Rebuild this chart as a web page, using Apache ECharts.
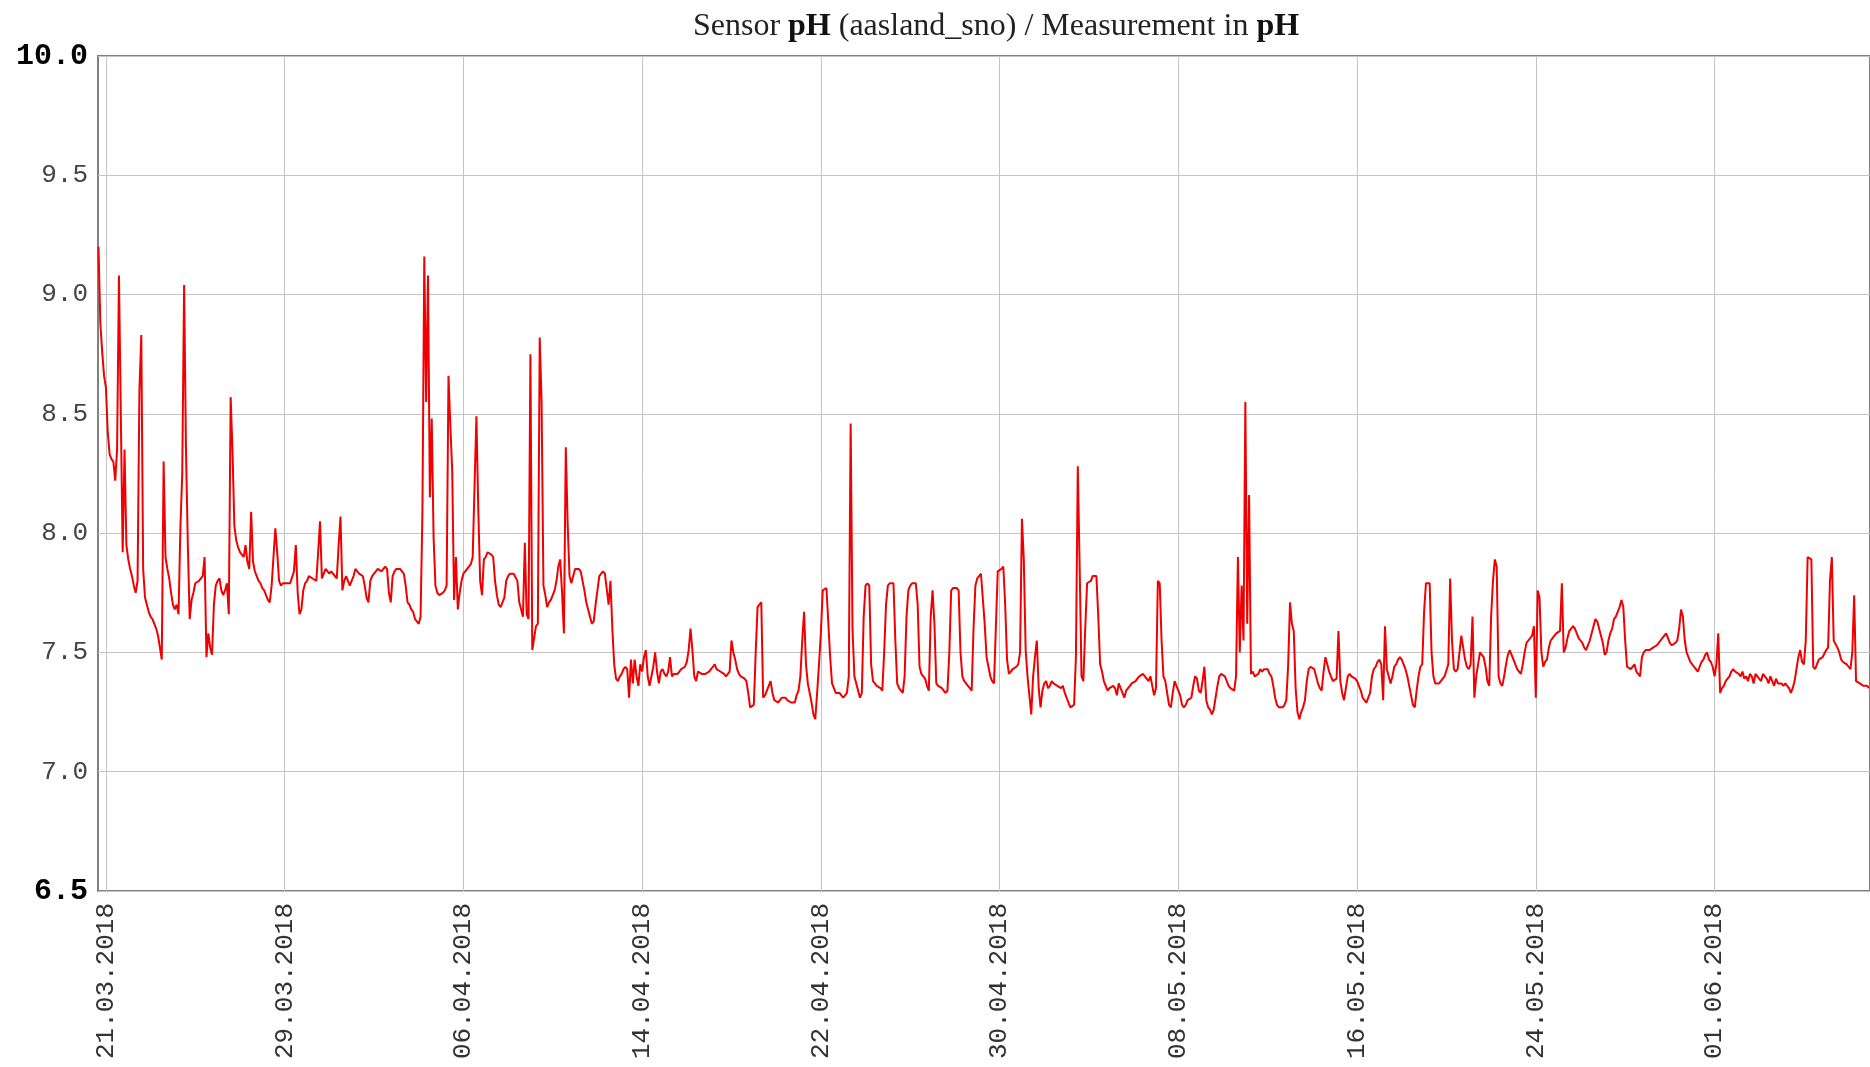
<!DOCTYPE html>
<html>
<head>
<meta charset="utf-8">
<title>Sensor pH (aasland_sno)</title>
<script src="https://cdn.jsdelivr.net/npm/echarts@6/dist/echarts.min.js"></script>
<style>
  html, body { margin: 0; padding: 0; background: #fff; }
  #chart { width: 1870px; height: 1067px; }
</style>
</head>
<body>
<div id="chart"></div>
<script>
// first reading 20.03.2018 16:00, one reading every 2 hours
const startDate = [2018, 2, 20, 16]
const stepHours = 2

const tickDates = ['21.03.2018', '29.03.2018', '06.04.2018', '14.04.2018', '22.04.2018',
  '30.04.2018', '08.05.2018', '16.05.2018', '24.05.2018', '01.06.2018']

const yTicks = [6.5, 7.0, 7.5, 8.0, 8.5, 9.0, 9.5, 10.0]

// pH readings, one row per day (00:00 .. 22:00)
const ph = [
  9.20, 8.88, 8.76, 8.66, // 20.03 from 16:00
  8.61, 8.42, 8.33, 8.31, 8.30, 8.22, 8.35, 9.08, 8.50, 7.92, 8.35, 7.95, // 21.03
  7.89, 7.85, 7.82, 7.78, 7.75, 7.80, 8.60, 8.83, 7.85, 7.73, 7.70, 7.67,
  7.65, 7.64, 7.62, 7.60, 7.57, 7.52, 7.47, 8.30, 7.90, 7.85, 7.81, 7.75,
  7.70, 7.68, 7.70, 7.66, 8.02, 8.25, 9.04, 8.35, 7.95, 7.64, 7.72, 7.75,
  7.79, 7.79, 7.80, 7.81, 7.82, 7.90, 7.48, 7.58, 7.52, 7.49, 7.70, 7.78, // 25.03
  7.80, 7.81, 7.76, 7.74, 7.76, 7.79, 7.66, 8.57, 8.34, 8.03, 7.97, 7.94,
  7.92, 7.91, 7.90, 7.95, 7.88, 7.85, 8.09, 7.88, 7.84, 7.82, 7.80, 7.79,
  7.77, 7.76, 7.74, 7.72, 7.71, 7.78, 7.90, 8.02, 7.92, 7.80, 7.78, 7.79,
  7.79, 7.79, 7.79, 7.79, 7.79, 7.84, 7.95, 7.75, 7.66, 7.68, 7.76, 7.79, // 29.03
  7.80, 7.82, 7.82, 7.81, 7.81, 7.80, 7.92, 8.05, 7.81, 7.83, 7.85, 7.85,
  7.83, 7.84, 7.84, 7.82, 7.81, 7.95, 8.07, 7.76, 7.80, 7.82, 7.80, 7.78,
  7.78, 7.82, 7.85, 7.84, 7.83, 7.83, 7.82, 7.78, 7.73, 7.71, 7.80, 7.82, // 01.04
  7.83, 7.84, 7.85, 7.85, 7.84, 7.84, 7.86, 7.85, 7.75, 7.71, 7.82, 7.84,
  7.85, 7.85, 7.85, 7.84, 7.83, 7.78, 7.71, 7.70, 7.68, 7.67, 7.64, 7.63,
  7.62, 7.65, 8.09, 9.16, 8.55, 9.08, 8.15, 8.48, 7.98, 7.78, 7.75, 7.74, // 04.04
  7.74, 7.75, 7.76, 7.78, 8.66, 8.45, 8.26, 7.72, 7.90, 7.68, 7.75, 7.80,
  7.83, 7.84, 7.85, 7.85, 7.87, 7.90, 8.20, 8.49, 8.10, 7.80, 7.74, 7.89, // 06.04
  7.90, 7.92, 7.92, 7.91, 7.90, 7.80, 7.74, 7.70, 7.69, 7.71, 7.73, 7.80,
  7.82, 7.83, 7.83, 7.83, 7.83, 7.80, 7.71, 7.68, 7.65, 7.96, 7.66, 7.64,
  8.75, 7.51, 7.56, 7.61, 7.62, 8.82, 8.55, 7.78, 7.74, 7.69, 7.71, 7.72, // 09.04
  7.72, 7.76, 7.80, 7.86, 7.89, 7.75, 7.58, 8.36, 8.04, 7.82, 7.79, 7.82,
  7.85, 7.85, 7.85, 7.84, 7.84, 7.76, 7.71, 7.68, 7.65, 7.62, 7.63, 7.70,
  7.76, 7.82, 7.83, 7.84, 7.83, 7.83, 7.70, 7.80, 7.60, 7.45, 7.39, 7.38, // 12.04
  7.40, 7.41, 7.43, 7.44, 7.43, 7.31, 7.47, 7.37, 7.47, 7.40, 7.36, 7.45,
  7.42, 7.48, 7.51, 7.40, 7.36, 7.40, 7.44, 7.50, 7.42, 7.37, 7.42, 7.43, // 14.04
  7.41, 7.40, 7.42, 7.48, 7.40, 7.41, 7.41, 7.41, 7.42, 7.43, 7.43, 7.44,
  7.46, 7.51, 7.60, 7.51, 7.40, 7.38, 7.42, 7.42, 7.41, 7.41, 7.41, 7.41,
  7.42, 7.43, 7.44, 7.45, 7.43, 7.43, 7.42, 7.42, 7.41, 7.40, 7.40, 7.42,
  7.55, 7.50, 7.47, 7.43, 7.41, 7.40, 7.40, 7.39, 7.38, 7.33, 7.27, 7.27, // 18.04
  7.28, 7.50, 7.69, 7.70, 7.71, 7.31, 7.32, 7.32, 7.36, 7.38, 7.33, 7.30,
  7.30, 7.29, 7.30, 7.31, 7.31, 7.31, 7.30, 7.30, 7.29, 7.29, 7.29, 7.32,
  7.34, 7.40, 7.55, 7.67, 7.45, 7.37, 7.33, 7.29, 7.24, 7.22, 7.33, 7.45,
  7.58, 7.76, 7.76, 7.77, 7.77, 7.48, 7.37, 7.35, 7.33, 7.33, 7.33, 7.32, // 22.04
  7.31, 7.32, 7.33, 7.40, 8.46, 7.60, 7.40, 7.37, 7.34, 7.31, 7.33, 7.65,
  7.78, 7.79, 7.78, 7.45, 7.38, 7.37, 7.36, 7.36, 7.35, 7.34, 7.50, 7.70,
  7.78, 7.79, 7.79, 7.79, 7.55, 7.37, 7.35, 7.34, 7.33, 7.40, 7.65, 7.76,
  7.78, 7.79, 7.79, 7.79, 7.70, 7.44, 7.41, 7.40, 7.39, 7.36, 7.34, 7.65, // 26.04
  7.76, 7.62, 7.37, 7.36, 7.36, 7.35, 7.34, 7.33, 7.34, 7.50, 7.76, 7.77,
  7.77, 7.77, 7.76, 7.50, 7.40, 7.38, 7.37, 7.36, 7.35, 7.34, 7.60, 7.78,
  7.81, 7.82, 7.83, 7.83, 7.62, 7.48, 7.44, 7.40, 7.38, 7.37, 7.37, 7.84,
  7.84, 7.85, 7.86, 7.70, 7.47, 7.41, 7.42, 7.43, 7.43, 7.44, 7.45, 7.50, // 30.04
  8.06, 7.89, 7.51, 7.40, 7.32, 7.24, 7.40, 7.48, 7.55, 7.35, 7.27, 7.34,
  7.37, 7.38, 7.35, 7.36, 7.38, 7.37, 7.37, 7.36, 7.36, 7.35, 7.36, 7.33,
  7.31, 7.29, 7.27, 7.27, 7.28, 7.48, 8.28, 7.86, 7.40, 7.38, 7.60, 7.79,
  7.79, 7.80, 7.82, 7.82, 7.82, 7.65, 7.45, 7.42, 7.38, 7.36, 7.34, 7.35, // 04.05
  7.35, 7.36, 7.35, 7.32, 7.37, 7.35, 7.33, 7.31, 7.34, 7.35, 7.36, 7.37,
  7.37, 7.38, 7.39, 7.40, 7.40, 7.41, 7.40, 7.39, 7.38, 7.40, 7.36, 7.32,
  7.35, 7.80, 7.79, 7.55, 7.40, 7.38, 7.33, 7.28, 7.27, 7.33, 7.38, 7.36,
  7.34, 7.32, 7.28, 7.27, 7.28, 7.30, 7.30, 7.31, 7.36, 7.40, 7.39, 7.34, // 08.05
  7.33, 7.38, 7.44, 7.30, 7.27, 7.26, 7.24, 7.26, 7.31, 7.36, 7.40, 7.41,
  7.41, 7.40, 7.38, 7.36, 7.35, 7.35, 7.34, 7.40, 7.90, 7.50, 7.78, 7.55,
  8.55, 7.62, 8.16, 7.41, 7.42, 7.40, 7.40, 7.41, 7.43, 7.42, 7.43, 7.43, // 11.05
  7.43, 7.41, 7.40, 7.36, 7.31, 7.28, 7.27, 7.27, 7.27, 7.28, 7.30, 7.45,
  7.71, 7.62, 7.59, 7.35, 7.25, 7.22, 7.25, 7.27, 7.30, 7.38, 7.43, 7.44,
  7.44, 7.43, 7.40, 7.37, 7.35, 7.34, 7.42, 7.48, 7.45, 7.42, 7.40, 7.38,
  7.38, 7.39, 7.59, 7.38, 7.33, 7.30, 7.35, 7.40, 7.41, 7.40, 7.40, 7.39,
  7.38, 7.36, 7.34, 7.31, 7.30, 7.29, 7.29, 7.33, 7.40, 7.43, 7.44, 7.46, // 16.05
  7.47, 7.45, 7.30, 7.61, 7.43, 7.40, 7.37, 7.40, 7.44, 7.45, 7.47, 7.48,
  7.47, 7.47, 7.43, 7.40, 7.36, 7.32, 7.28, 7.27, 7.34, 7.40, 7.44, 7.45,
  7.67, 7.79, 7.79, 7.79, 7.50, 7.40, 7.37, 7.37, 7.37, 7.38, 7.39, 7.40,
  7.40, 7.45, 7.81, 7.55, 7.43, 7.42, 7.43, 7.43, 7.57, 7.52, 7.47, 7.44, // 20.05
  7.43, 7.45, 7.65, 7.31, 7.40, 7.45, 7.50, 7.49, 7.48, 7.44, 7.38, 7.36,
  7.65, 7.80, 7.89, 7.86, 7.40, 7.37, 7.36, 7.40, 7.45, 7.49, 7.51, 7.49,
  7.47, 7.45, 7.43, 7.42, 7.41, 7.45, 7.50, 7.54, 7.55, 7.55, 7.57, 7.61,
  7.31, 7.76, 7.73, 7.50, 7.44, 7.46, 7.47, 7.52, 7.55, 7.56, 7.57, 7.58, // 24.05
  7.58, 7.59, 7.79, 7.50, 7.52, 7.56, 7.59, 7.60, 7.61, 7.60, 7.58, 7.56,
  7.55, 7.54, 7.52, 7.51, 7.51, 7.55, 7.58, 7.61, 7.64, 7.63, 7.60, 7.57,
  7.54, 7.49, 7.50, 7.55, 7.58, 7.60, 7.64, 7.65, 7.67, 7.69, 7.72, 7.69,
  7.55, 7.44, 7.44, 7.43, 7.43, 7.45, 7.42, 7.41, 7.40, 7.48, 7.50, 7.51, // 28.05
  7.51, 7.51, 7.51, 7.52, 7.52, 7.53, 7.54, 7.55, 7.56, 7.57, 7.58, 7.56,
  7.54, 7.53, 7.53, 7.54, 7.55, 7.60, 7.68, 7.65, 7.55, 7.50, 7.48, 7.46,
  7.45, 7.44, 7.43, 7.42, 7.44, 7.46, 7.47, 7.49, 7.50, 7.47, 7.46, 7.44,
  7.40, 7.45, 7.58, 7.33, 7.35, 7.36, 7.38, 7.39, 7.40, 7.42, 7.43, 7.42, // 01.06
  7.42, 7.41, 7.40, 7.42, 7.39, 7.40, 7.38, 7.41, 7.40, 7.37, 7.41, 7.40,
  7.40, 7.38, 7.41, 7.41, 7.39, 7.37, 7.40, 7.38, 7.36, 7.39, 7.37, 7.37,
  7.37, 7.36, 7.37, 7.36, 7.35, 7.33, 7.35, 7.38, 7.43, 7.48, 7.51, 7.46,
  7.45, 7.55, 7.90, 7.90, 7.89, 7.44, 7.43, 7.45, 7.47, 7.47, 7.48, 7.48, // 05.06
  7.51, 7.52, 7.80, 7.90, 7.55, 7.55, 7.52, 7.50, 7.47, 7.46, 7.46, 7.45,
  7.44, 7.43, 7.50, 7.74, 7.38, 7.38, 7.37, 7.37, 7.36, 7.36, 7.36, 7.35  // 07.06
]

const parseDate = (s) => {
  const p = s.split('.')
  return new Date(+p[2], +p[1] - 1, +p[0]).getTime()
}

const start = new Date(...startDate).getTime()
const seriesData = ph.map((v, i) => [start + i * stepHours * 3600 * 1000, v])
const tickValues = tickDates.map(parseDate)

const pad = (n) => (n < 10 ? '0' + n : '' + n)
const fmtDate = (t) => {
  const d = new Date(t)
  return pad(d.getDate()) + '.' + pad(d.getMonth() + 1) + '.' + d.getFullYear()
}

const myChart = echarts.init(document.getElementById('chart'), null, { renderer: 'canvas' })

const option = {
  animation: false,
  backgroundColor: '#ffffff',
  title: {
    text: 'Sensor {b|pH} (aasland_sno) / Measurement in {b|pH}',
    left: 991,
    top: 6,
    textAlign: 'center',
    textStyle: {
      color: '#222',
      fontFamily: 'Liberation Serif',
      fontSize: 32,
      fontWeight: 'normal',
      rich: {
        b: {
          color: '#111',
          fontFamily: 'Liberation Serif',
          fontSize: 32,
          fontWeight: 'bold'
        }
      }
    }
  },
  grid: {
    left: 98,
    right: -2,
    top: 56,
    bottom: 176,
    show: true,
    borderColor: '#808080',
    borderWidth: 2,
    backgroundColor: 'transparent'
  },
  xAxis: {
    type: 'value',
    min: start - 0.5 * 3600 * 1000,
    max: parseDate('07.06.2018') + 23 * 3600 * 1000,
    axisLine: { show: false },
    axisTick: { show: false, customValues: tickValues },
    splitLine: {
      show: true,
      lineStyle: { color: '#c4c4c4', width: 1 }
    },
    axisLabel: {
      customValues: tickValues,
      rotate: 90,
      margin: 12,
      color: '#333',
      fontFamily: 'Liberation Mono',
      fontSize: 26,
      formatter: (val) => fmtDate(val)
    }
  },
  yAxis: {
    type: 'value',
    min: yTicks[0],
    max: yTicks[yTicks.length - 1],
    interval: 0.5,
    axisLine: { show: false },
    axisTick: { show: false },
    splitLine: {
      show: true,
      lineStyle: { color: '#c4c4c4', width: 1 }
    },
    axisLabel: {
      margin: 10,
      color: '#444',
      fontFamily: 'Liberation Mono',
      fontSize: 26,
      formatter: (val) => {
        const s = val.toFixed(1)
        return (val === yTicks[0] || val === yTicks[yTicks.length - 1]) ? '{b|' + s + '}' : s
      },
      rich: {
        b: {
          color: '#000',
          fontFamily: 'Liberation Mono',
          fontSize: 30,
          fontWeight: 'bold'
        }
      }
    }
  },
  series: [
    {
      name: 'pH',
      type: 'line',
      data: seriesData,
      showSymbol: false,
      symbol: 'none',
      sampling: null,
      lineStyle: {
        color: '#f00000',
        width: 2
      }
    }
  ]
}

myChart.setOption(option)
</script>
</body>
</html>
